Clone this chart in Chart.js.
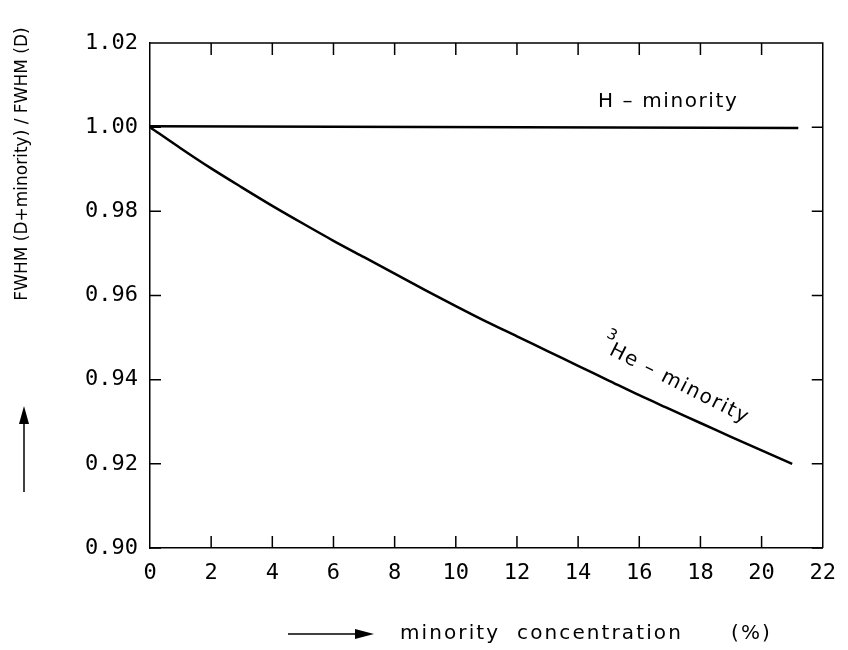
<!DOCTYPE html>
<html>
<head>
<meta charset="utf-8">
<script src="https://cdn.jsdelivr.net/npm/chart.js@4.4.0/dist/chart.umd.min.js"></script>
<style>
  html, body { margin: 0; padding: 0; background: #fff; }
  #wrap { width: 848px; height: 650px; }
</style>
</head>
<body>
<div id="wrap"><canvas id="canvas" width="848" height="650"></canvas></div>
<script>
// data
var xTicks = [0, 2, 4, 6, 8, 10, 12, 14, 16, 18, 20, 22];
var yTicks = [0.90, 0.92, 0.94, 0.96, 0.98, 1.00, 1.02];

var heConc = [0, 1, 2, 3, 4, 5, 6, 7, 8, 9, 10, 11, 12, 13, 14, 15, 16, 17, 18, 19, 20, 21];
var heRatio = [1.0000, 0.9950, 0.9902, 0.9857, 0.9813, 0.9771, 0.9730, 0.9691, 0.9652, 0.9613, 0.9575,
               0.9538, 0.9503, 0.9468, 0.9433, 0.9398, 0.9363, 0.9330, 0.9297, 0.9264, 0.9232, 0.9200];

var hConc = [0, 21.2];
var hRatio = [1.0002, 0.9998];

function pts(xs, ys) {
	return xs.map(function(x, i) { return {x: x, y: ys[i]}; });
}

var tickFont = {family: "'DejaVu Sans Mono', monospace", size: 22};
var textFont = "'DejaVu Sans', sans-serif";

// inward tick marks on all four sides, plus titles and arrows
const decorations = {
	id: 'decorations',
	afterDraw(chart) {
		const ctx = chart.ctx;
		const a = chart.chartArea;
		const xs = chart.scales.x, ys = chart.scales.y;
		ctx.save();
		ctx.strokeStyle = '#000';
		ctx.lineWidth = 1.5;
		ctx.beginPath();
		xTicks.forEach(function(v) {
			if (v === 0 || v === 22) return;
			const px = xs.getPixelForValue(v);
			ctx.moveTo(px, a.bottom); ctx.lineTo(px, a.bottom - 12);
			ctx.moveTo(px, a.top); ctx.lineTo(px, a.top + 12);
		});
		yTicks.forEach(function(v) {
			const py = ys.getPixelForValue(v);
			ctx.moveTo(a.left, py); ctx.lineTo(a.left + 11, py);
			ctx.moveTo(a.right, py); ctx.lineTo(a.right - 11, py);
		});
		// top and right frame
		ctx.moveTo(a.left, a.top); ctx.lineTo(a.right, a.top); ctx.lineTo(a.right, a.bottom);
		ctx.stroke();

		ctx.fillStyle = '#000';
		// y title + arrow
		ctx.save();
		ctx.translate(23, 164);
		ctx.rotate(-Math.PI / 2);
		ctx.font = '17px ' + textFont;
		ctx.textAlign = 'center';
		ctx.textBaseline = 'middle';
		ctx.fillText('FWHM (D+minority) / FWHM (D)', 0, 0);
		ctx.restore();
		ctx.beginPath();
		ctx.moveTo(24, 492); ctx.lineTo(24, 420);
		ctx.stroke();
		ctx.beginPath();
		ctx.moveTo(24, 406); ctx.lineTo(19, 424); ctx.lineTo(29, 424); ctx.closePath();
		ctx.fill();

		// x title + arrow
		ctx.beginPath();
		ctx.moveTo(288, 634); ctx.lineTo(358, 634);
		ctx.stroke();
		ctx.beginPath();
		ctx.moveTo(374, 634); ctx.lineTo(355, 629); ctx.lineTo(355, 639); ctx.closePath();
		ctx.fill();
		ctx.save();
		ctx.font = '20px ' + textFont;
		ctx.letterSpacing = '2.1px';
		ctx.textAlign = 'left';
		ctx.textBaseline = 'middle';
		ctx.fillText('minority  concentration', 400, 634);
		ctx.fillText('(%)', 731, 634);

		// curve labels
		ctx.letterSpacing = '1.6px';
		ctx.fillText('H \u2013 minority', 598, 102);

		ctx.translate(602, 344);
		ctx.rotate(27 * Math.PI / 180);
		ctx.font = '15px ' + textFont;
		ctx.textBaseline = 'alphabetic';
		ctx.fillText('3', 0, -8);
		ctx.font = '20px ' + textFont;
		ctx.fillText('He \u2013 minority', 10, 6);
		ctx.restore();

		ctx.restore();
	}
};

const ctx = document.getElementById('canvas').getContext('2d');

const myChart = new Chart(ctx, {
  type: 'line',
  data: {
	datasets: [{
	  label: 'H - minority',
	  data: pts(hConc, hRatio),
	  borderColor: '#000',
	  borderWidth: 2.5,
	  pointRadius: 0,
	  fill: false
	}, {
	  label: '3He - minority',
	  data: pts(heConc, heRatio),
	  borderColor: '#000',
	  borderWidth: 2.5,
	  pointRadius: 0,
	  tension: 0.3,
	  fill: false
	}]
  },
  options: {
	responsive: false,
	animation: false,
	layout: {
	  padding: {left: 0, top: 43, right: 22, bottom: 0}
	},
	plugins: {
	  legend: {display: false},
	  tooltip: {enabled: false}
	},
	scales: {
	  x: {
		type: 'linear',
		min: 0,
		max: 22,
		afterBuildTicks: function(scale) {
		  scale.ticks = xTicks.map(function(v) { return {value: v}; });
		},
		afterFit: function(scale) { scale.height = 102; },
		grid: {display: false, drawTicks: false},
		border: {display: true, color: '#000', width: 1.5},
		ticks: {
		  color: '#000',
		  font: tickFont,
		  padding: 12,
		  maxRotation: 0,
		  autoSkip: false
		}
	  },
	  y: {
		type: 'linear',
		min: 0.90,
		max: 1.02,
		afterBuildTicks: function(scale) {
		  scale.ticks = yTicks.map(function(v) { return {value: v}; });
		},
		afterFit: function(scale) { scale.width = 150; },
		grid: {display: false, drawTicks: false},
		border: {display: true, color: '#000', width: 1.5},
		ticks: {
		  color: '#000',
		  font: tickFont,
		  padding: 12,
		  autoSkip: false,
		  callback: function(v) { return Number(v).toFixed(2); }
		}
	  }
	}
  },
  plugins: [decorations]
});
</script>
</body>
</html>
